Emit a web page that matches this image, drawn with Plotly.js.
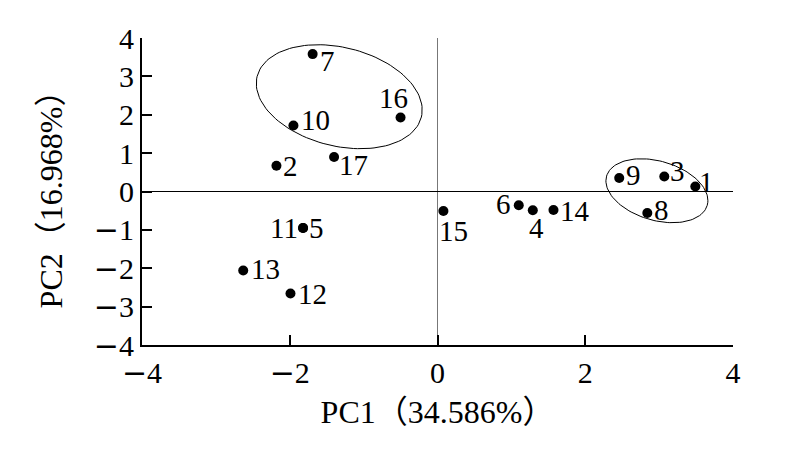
<!DOCTYPE html>
<html>
<head>
<meta charset="utf-8">
<script src="https://cdn.plot.ly/plotly-3.0.1.min.js"></script>
<style>html,body{margin:0;padding:0;background:#fff;}#chart{width:799px;height:452px;}</style>
</head>
<body>
<div id="chart"></div>
<script>
// ---- data ----
var sampleNames = ["1","2","3","4","5","6","7","8","9","10","11","12","13","14","15","16","17"];
var pc1 = [3.49,-2.18,3.07,1.29,-1.82,1.10,-1.69,2.84,2.46,-1.95,-1.82,-1.99,-2.63,1.57,0.08,-0.50,-1.40];
var pc2 = [0.13,0.67,0.39,-0.49,-0.95,-0.36,3.58,-0.56,0.35,1.72,-0.95,-2.66,-2.06,-0.48,-0.51,1.93,0.90];
var xTicks = [-4,-2,0,2,4];
var yTicks = [-4,-3,-2,-1,0,1,2,3,4];
var xTitle = "PC1（34.586%）";
var yTitle = "PC2（16.968%）";
// group ellipses: centre in data units
var ellCx = [-1.33, 2.97];
var ellCy = [2.47, 0.02];

// ---- styles (pixel offsets of labels, ellipse sizes in px) ----
var labelDx = {"1":11,"2":14,"3":13.5,"4":4,"5":13,"6":-15,"7":15,"8":14,"9":14,"10":22,"11":-19,"12":22,"13":22,"14":22,"15":10,"16":-7,"17":19};
var labelDy = {"1":-5,"2":0,"3":-6,"4":18,"5":0,"6":-1,"7":7,"8":-3,"9":-3,"10":-6,"11":0,"12":0,"13":-2,"14":1,"15":20,"16":-19,"17":8};
var ellA = [84.6, 52.4], ellB = [49.3, 29.6], ellAng = [13.9, 16.2];

var W = 799, H = 452;
var M = {l:142, r:66, t:38, b:107};
var xr = [-4,4], yr = [-4,4];
var sx = (W - M.l - M.r) / (xr[1]-xr[0]);
var sy = (H - M.t - M.b) / (yr[1]-yr[0]);

var serif = "Liberation Serif, Times New Roman, Noto Sans CJK SC, serif";
function tickLabel(v) {
  return v < 0 ? '<span style="font-family:DejaVu Serif">\u2212</span>' + Math.abs(v) : String(v);
}

var traces = [];
for (var e = 0; e < ellCx.length; e++) {
  var ex = [], ey = [];
  var phi = ellAng[e] * Math.PI / 180;
  for (var i = 0; i <= 120; i++) {
    var t = 2*Math.PI*i/120;
    var u = ellA[e]*Math.cos(t)*Math.cos(phi) - ellB[e]*Math.sin(t)*Math.sin(phi);
    var v = -(ellA[e]*Math.cos(t)*Math.sin(phi) + ellB[e]*Math.sin(t)*Math.cos(phi));
    ex.push(ellCx[e] + u/sx);
    ey.push(ellCy[e] + v/sy);
  }
  traces.push({x: ex, y: ey, mode: "lines", line: {color: "#000", width: 1}, hoverinfo: "skip", showlegend: false});
}
traces.push({
  x: pc1, y: pc2, mode: "markers", type: "scatter",
  marker: {color: "#000", size: 10},
  showlegend: false
});

var annotations = sampleNames.map(function(n, i){
  return {x: pc1[i], y: pc2[i], xref: "x", yref: "y", text: n, showarrow: false,
    xanchor: "center", yanchor: "middle", xshift: labelDx[n], yshift: -labelDy[n],
    font: {family: serif, size: 29, color: "#000"}};
});

var layout = {
  width: W, height: H,
  margin: M,
  paper_bgcolor: "#fff", plot_bgcolor: "#fff",
  showlegend: false,
  font: {family: serif, size: 29, color: "#000"},
  xaxis: {
    range: xr, tickmode: "array", tickvals: xTicks, ticktext: xTicks.map(tickLabel),
    ticks: "inside", ticklen: 10, tickwidth: 2, tickcolor: "#000",
    showline: true, linewidth: 2, linecolor: "#000", mirror: false,
    showgrid: false, zeroline: true, zerolinecolor: "#777", zerolinewidth: 1.5,
    tickfont: {family: serif, size: 30, color: "#000"},
    title: {text: xTitle, font: {family: serif, size: 32, color: "#000"}, standoff: 12},
    automargin: false, fixedrange: true
  },
  yaxis: {
    range: yr, tickmode: "array", tickvals: yTicks, ticktext: yTicks.map(tickLabel),
    ticks: "inside", ticklen: 10, tickwidth: 2, tickcolor: "#000",
    showline: true, linewidth: 2, linecolor: "#000", mirror: false,
    showgrid: false, zeroline: true, zerolinecolor: "#000", zerolinewidth: 1.5,
    tickfont: {family: serif, size: 30, color: "#000"},
    title: {text: yTitle, font: {family: serif, size: 32, color: "#000"}, standoff: 22},
    automargin: false, fixedrange: true
  },
  annotations: annotations
};

Plotly.newPlot("chart", traces, layout, {displayModeBar: false, staticPlot: true});
</script>
</body>
</html>
